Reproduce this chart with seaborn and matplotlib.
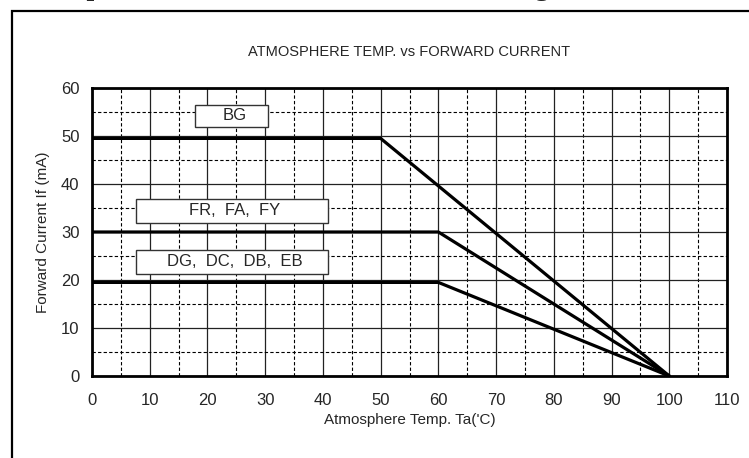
import numpy as np
import pandas as pd
import matplotlib
matplotlib.use("Agg")
import matplotlib.pyplot as plt
import seaborn as sns
from matplotlib.patches import Rectangle

# 데이터 (derating curves)
groups = ["BG", "FR, FA, FY", "DG, DC, DB, EB"]
temp_bg = [0, 50, 100]
cur_bg = [49.5, 49.5, 0]
temp_fr = [0, 60, 100]
cur_fr = [30, 30, 0]
temp_dg = [0, 60, 100]
cur_dg = [19.5, 19.5, 0]

x_ticks = [0, 10, 20, 30, 40, 50, 60, 70, 80, 90, 100, 110]
y_ticks = [0, 10, 20, 30, 40, 50, 60]

df = pd.concat([
    pd.DataFrame({"temp": temp_bg, "current": cur_bg, "group": groups[0]}),
    pd.DataFrame({"temp": temp_fr, "current": cur_fr, "group": groups[1]}),
    pd.DataFrame({"temp": temp_dg, "current": cur_dg, "group": groups[2]}),
])

sns.set_style("white")
plt.rcParams['font.family'] = ['Liberation Sans', 'DejaVu Sans']

fig = plt.figure(figsize=(7.49, 4.58), dpi=100)
ax = fig.add_axes([92/749, 1-376/458, (727-92)/749, (376-88)/458])

# 잘린 제목 (아랫부분만 보임)
fig.text(292/749, 1 + 5/458, "Temperature vs Forward Current Derating",
         ha="center", va="baseline", fontsize=20, fontweight="bold",
         family=["Liberation Serif", "DejaVu Serif"])

# 바깥 테두리
fig.add_artist(Rectangle((12/749, -0.2), 1.2, 1.2 - 11/458, transform=fig.transFigure,
                         fill=False, edgecolor="black", lw=1.6, clip_on=False))

sns.lineplot(data=df, x="temp", y="current", hue="group", units="group",
             estimator=None, palette=["black"]*3, linewidth=2.3,
             legend=False, sort=False, ax=ax, zorder=5)

ax.set_xlim(0, 110)
ax.set_ylim(0, 60)
ax.set_xticks(x_ticks)
ax.set_yticks(y_ticks)
ax.set_xticks(np.arange(5, 110, 10), minor=True)
ax.set_yticks(np.arange(5, 60, 10), minor=True)
ax.grid(which="major", color="#222222", lw=0.9, ls="-")
ax.grid(which="minor", color="black", lw=0.8, ls=(0, (3, 2)))
ax.tick_params(axis="x", which="both", length=0, labelsize=12, pad=12)
ax.tick_params(axis="y", which="both", length=0, labelsize=12, pad=9)
for s in ax.spines.values():
    s.set_visible(True)
    s.set_color("black")
    s.set_linewidth(2)

ax.set_xlabel("Atmosphere Temp. Ta('C)", fontsize=11, labelpad=4)
ax.set_ylabel("Forward Current If (mA)", fontsize=11, labelpad=8)
ax.set_title("ATMOSPHERE TEMP. vs FORWARD CURRENT", fontsize=10.5, pad=23)

# 라벨 박스
boxes = [(17.9, 51.9, 12.6, 4.6), (7.6, 31.9, 33.3, 5.0), (7.6, 21.25, 33.3, 5.0)]
for name, (bx, by, bw, bh) in zip(groups, boxes):
    ax.add_patch(Rectangle((bx, by), bw, bh, facecolor="white", edgecolor="#333333",
                           lw=1.0, zorder=6))
    ax.text(bx + bw/2 + 0.5, by + bh/2, name.replace(", ", ",  "), ha="center", va="center",
            fontsize=12, zorder=7)

plt.savefig("out.png", dpi=100)
